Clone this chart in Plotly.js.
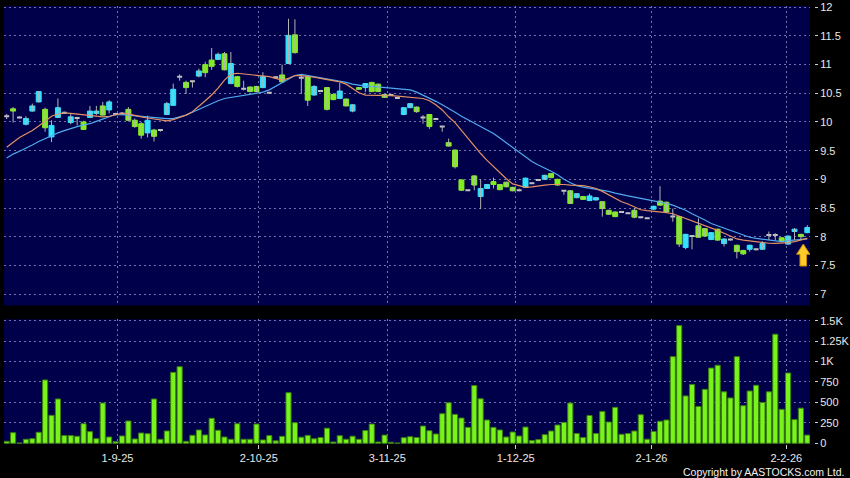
<!DOCTYPE html>
<html><head><meta charset="utf-8">
<script src="https://cdn.plot.ly/plotly-3.0.1.min.js"></script>
<style>html,body{margin:0;padding:0;background:#000;}#chart{width:850px;height:478px;}</style>
</head><body><div id="chart"></div>
<script>
// Daily OHLC (one entry per trading day, oldest first)
const openP = [10.10,10.23,10.08,9.96,10.19,10.35,10.22,9.74,10.08,10.16,
 9.99,10.07,10.00,10.08,10.15,10.28,10.21,10.14,10.15,10.22,
 10.03,9.97,9.81,9.86,9.86,10.13,10.29,10.79,10.69,10.71,
 10.80,11.00,11.08,11.09,11.19,10.67,10.79,10.58,10.61,10.62,
 10.60,10.51,10.78,10.82,11.02,11.52,10.77,10.79,10.47,10.54,
 10.60,10.48,10.41,10.40,10.19,10.60,10.60,10.69,10.66,10.48,
 10.47,10.42,10.13,10.25,10.26,10.08,10.13,10.05,9.92,9.64,
 9.51,8.99,8.81,9.06,8.70,8.84,8.96,8.91,8.95,8.86,
 8.81,8.86,8.93,8.99,9.00,9.10,9.00,8.80,8.80,8.68,
 8.70,8.63,8.64,8.61,8.46,8.43,8.43,8.41,8.46,8.34,
 8.32,8.48,8.62,8.60,8.35,8.35,7.81,8.01,8.19,8.14,
 7.95,8.13,7.88,7.95,7.85,7.76,7.78,7.78,7.78,8.03,
 8.03,7.98,7.87,8.09,8.04,8.07];
const highP = [10.14,10.26,10.10,10.10,10.32,10.54,10.25,10.03,10.41,10.18,
 10.15,10.09,10.02,10.28,10.28,10.35,10.38,10.16,10.17,10.26,
 10.06,10.00,10.11,9.88,9.87,10.35,10.67,10.83,10.72,10.72,
 10.93,11.05,11.29,11.21,11.22,11.22,10.80,10.72,10.62,10.63,
 10.87,10.52,10.79,11.00,11.80,11.79,10.81,10.80,10.64,10.56,
 10.61,10.50,10.68,10.41,10.31,10.61,10.68,10.70,10.67,10.49,
 10.48,10.43,10.26,10.33,10.27,10.12,10.14,10.06,9.93,9.71,
 9.52,9.00,8.82,9.07,9.00,8.92,9.03,8.92,8.96,8.87,
 8.84,9.03,8.94,9.00,9.08,9.11,9.01,8.81,8.81,8.76,
 8.71,8.75,8.69,8.62,8.47,8.44,8.45,8.42,8.50,8.35,
 8.33,8.54,8.88,8.61,8.49,8.36,8.05,8.02,8.32,8.15,
 8.08,8.14,7.97,7.97,7.86,7.77,7.86,7.79,7.92,8.09,
 8.06,7.99,8.02,8.15,8.05,8.20];
const lowP = [10.05,9.99,10.06,9.94,10.18,10.34,9.83,9.65,10.07,10.14,
 9.96,9.94,9.86,10.07,10.12,10.11,10.15,10.12,10.13,10.01,
 9.90,9.71,9.73,9.66,9.83,10.12,10.29,10.72,10.49,10.60,
 10.78,10.78,10.91,11.08,10.90,10.66,10.60,10.55,10.52,10.52,
 10.59,10.50,10.77,10.69,11.01,11.19,10.49,10.28,10.46,10.53,
 10.20,10.38,10.40,10.27,10.17,10.56,10.52,10.52,10.52,10.42,
 10.46,10.41,10.12,10.24,10.16,9.97,9.88,10.04,9.83,9.57,
 9.19,8.80,8.80,8.81,8.48,8.83,8.84,8.81,8.86,8.79,
 8.79,8.85,8.92,8.97,8.99,9.02,8.89,8.73,8.57,8.67,
 8.64,8.62,8.63,8.35,8.38,8.34,8.42,8.40,8.32,8.32,
 8.31,8.47,8.54,8.42,8.26,7.82,7.78,7.78,7.98,8.00,
 7.94,7.93,7.83,7.93,7.62,7.68,7.74,7.76,7.77,7.94,
 7.94,7.91,7.86,7.94,7.94,8.06];
const closeP = [10.10,10.19,10.08,10.06,10.28,10.53,9.90,9.94,10.25,10.16,
 10.09,10.07,9.87,10.19,10.19,10.12,10.35,10.14,10.15,10.03,
 9.92,9.77,10.03,9.75,9.86,10.32,10.57,10.79,10.60,10.71,
 10.89,10.86,10.97,11.18,10.91,11.02,10.62,10.58,10.53,10.53,
 10.79,10.51,10.78,10.70,11.51,11.21,10.77,10.38,10.62,10.54,
 10.22,10.39,10.54,10.28,10.30,10.57,10.67,10.53,10.53,10.43,
 10.47,10.42,10.25,10.32,10.18,10.08,9.92,10.05,9.92,9.58,
 9.22,8.81,8.81,8.90,8.84,8.91,8.91,8.82,8.87,8.80,
 8.81,9.02,8.93,8.99,9.07,9.03,8.90,8.80,8.58,8.75,
 8.65,8.71,8.68,8.49,8.39,8.35,8.43,8.41,8.34,8.34,
 8.32,8.53,8.55,8.43,8.35,7.87,8.04,8.01,7.99,8.01,
 8.07,7.94,7.96,7.95,7.74,7.70,7.85,7.78,7.88,8.03,
 8.03,7.92,8.01,8.13,8.00,8.16];
// Daily volume
const volume = [24,130,4,49,57,135,775,342,542,94,
 94,86,240,143,57,493,77,20,90,273,
 53,126,118,542,49,151,868,937,24,98,
 163,102,306,159,77,49,240,49,49,236,
 41,94,30,85,619,252,75,97,55,71,
 185,16,93,49,87,49,156,236,16,100,
 12,3,69,81,71,211,154,114,362,496,
 354,309,195,707,545,285,195,163,77,138,
 89,199,33,45,106,150,224,256,492,120,
 70,340,120,390,260,440,110,120,150,350,
 50,145,270,285,1060,1440,580,720,450,660,
 920,955,630,555,1060,460,640,710,500,630,
 1335,415,860,290,430,100];
// Moving averages as drawn (orange = short, blue = long)
const maShort = [9.56,9.65,9.73,9.79,9.85,9.93,10.02,10.10,10.14,10.16,
 10.15,10.14,10.13,10.12,10.11,10.09,10.10,10.13,10.15,10.14,
 10.11,10.09,10.07,10.05,10.03,10.02,10.04,10.08,10.12,10.18,
 10.27,10.37,10.47,10.59,10.73,10.83,10.85,10.84,10.83,10.82,
 10.80,10.79,10.76,10.73,10.76,10.81,10.81,10.80,10.78,10.76,
 10.74,10.72,10.70,10.66,10.58,10.51,10.47,10.47,10.47,10.46,
 10.46,10.45,10.44,10.43,10.43,10.41,10.37,10.30,10.21,10.09,
 9.99,9.85,9.72,9.59,9.45,9.33,9.22,9.12,9.01,8.92,
 8.89,8.86,8.87,8.89,8.90,8.91,8.915,8.91,8.90,8.90,
 8.89,8.87,8.84,8.79,8.73,8.66,8.61,8.57,8.52,8.47,
 8.455,8.445,8.434,8.42,8.40,8.36,8.32,8.27,8.23,8.20,
 8.16,8.11,8.06,8.01,7.96,7.94,7.925,7.91,7.89,7.885,
 7.883,7.885,7.895,7.915,7.945,7.97];
const maLong = [9.37,9.44,9.49,9.54,9.60,9.66,9.71,9.77,9.81,9.85,
 9.89,9.92,9.95,9.97,10.01,10.05,10.09,10.13,10.13,10.12,
 10.11,10.09,10.08,10.07,10.06,10.06,10.06,10.09,10.12,10.17,
 10.22,10.27,10.33,10.37,10.41,10.43,10.45,10.47,10.48,10.50,
 10.52,10.56,10.62,10.69,10.75,10.81,10.83,10.81,10.79,10.77,
 10.76,10.74,10.72,10.69,10.66,10.64,10.625,10.62,10.61,10.605,
 10.60,10.59,10.58,10.56,10.52,10.47,10.42,10.36,10.30,10.24,
 10.17,10.10,10.04,9.98,9.93,9.87,9.80,9.72,9.64,9.55,
 9.47,9.39,9.31,9.25,9.20,9.14,9.08,9.00,8.94,8.89,
 8.865,8.845,8.83,8.815,8.79,8.76,8.73,8.71,8.69,8.67,
 8.65,8.63,8.61,8.58,8.55,8.51,8.46,8.40,8.35,8.29,
 8.23,8.19,8.14,8.10,8.06,8.02,7.99,7.97,7.955,7.94,
 7.92,7.915,7.93,7.94,7.95,7.96];
// Date axis labels (trading-day position of each month start)
const tickLabels = ['1-9-25','2-10-25','3-11-25','1-12-25','2-1-26','2-2-26'];
const tickPos = [17.3,39.36,59.42,79.48,100.67,121.72];
const priceTicks = [7,7.5,8,8.5,9,9.5,10,10.5,11,11.5,12];
const priceTickLabels = ['7','7.5','8','8.5','9','9.5','10','10.5','11','11.5','12'];
const volTicks = [0,250,500,750,1000,1250,1500];
const volTickLabels = ['0','250','500','750','1K','1.25K','1.5K'];
// Marker arrow at latest session
const arrowAt = {day: 124.37, price: 7.872};

const idx = openP.map((_, i) => i);

const wx = [], wy = [];
idx.forEach(i => { wx.push(i, i, null); wy.push(lowP[i], highP[i], null); });

function bodies(sel, fill, lineColor, lw) {
  const ii = idx.filter(sel);
  const st = {line: {color: lineColor, width: lw}, fillcolor: fill};
  return {
    type: 'candlestick', x: ii,
    open: ii.map(i => openP[i]), close: ii.map(i => closeP[i]),
    high: ii.map(i => Math.max(openP[i], closeP[i])),
    low: ii.map(i => Math.min(openP[i], closeP[i])),
    increasing: st, decreasing: st, whiskerwidth: 0,
    hoverinfo: 'skip', xaxis: 'x', yaxis: 'y', showlegend: false
  };
}

const traces = [
  {type: 'scatter', mode: 'lines', x: idx, y: maLong, line: {color: '#4fa9ee', width: 1.2}, hoverinfo: 'skip', yaxis: 'y'},
  {type: 'scatter', mode: 'lines', x: idx, y: maShort, line: {color: '#e39062', width: 1.2}, hoverinfo: 'skip', yaxis: 'y'},
  {type: 'scatter', mode: 'lines', x: wx, y: wy, line: {color: '#b4b4b4', width: 1}, hoverinfo: 'skip', yaxis: 'y', connectgaps: false},
  bodies(i => closeP[i] > openP[i], '#2fe2ff', '#2fe2ff', 1),
  bodies(i => closeP[i] < openP[i], '#82ee1e', '#82ee1e', 1),
  bodies(i => closeP[i] === openP[i], 'rgba(0,0,0,0)', '#c4c4c4', 2),
  {type: 'bar', x: idx, y: volume, yaxis: 'y2', marker: {color: '#78f41a', line: {color: '#3a7f10', width: 1}}, hoverinfo: 'skip'}
];

const tickFont = {family: 'Arial, "Liberation Sans", sans-serif', size: 11, color: '#e8e8e8'};
const gridCol = 'rgba(150,150,205,0.75)';
const layout = {
  width: 850, height: 478,
  paper_bgcolor: '#000000', plot_bgcolor: '#00004a',
  margin: {l: 4, r: 36, t: 6, b: 34, pad: 0},
  showlegend: false, bargap: 0.2, boxgap: 0.12, boxgroupgap: 0.12,
  xaxis: {
    domain: [0, 806 / 810], range: [-0.42, 125.42], anchor: 'y2',
    tickmode: 'array', tickvals: tickPos, ticktext: tickLabels,
    ticks: 'outside', ticklen: 4, tickcolor: '#cfcfcf', tickfont: tickFont,
    showgrid: true, gridcolor: gridCol, griddash: '2px,3px', gridwidth: 1,
    zeroline: false, showline: false, rangeslider: {visible: false}, fixedrange: true
  },
  yaxis: {
    domain: [0.3162, 1], range: [6.7995, 12.0227], side: 'right', anchor: 'free', position: 1,
    tickmode: 'array', tickvals: priceTicks, ticktext: priceTickLabels,
    ticks: 'outside', ticklen: 3, tickcolor: '#cfcfcf', tickfont: tickFont,
    showgrid: true, gridcolor: gridCol, griddash: '2px,3px', gridwidth: 1,
    zeroline: false, showline: false, fixedrange: true
  },
  yaxis2: {
    domain: [0, 0.2847], range: [-8.6, 1517], side: 'right', anchor: 'free', position: 1,
    tickmode: 'array', tickvals: volTicks, ticktext: volTickLabels,
    ticks: 'outside', ticklen: 3, tickcolor: '#cfcfcf', tickfont: tickFont,
    showgrid: true, gridcolor: gridCol, griddash: '2px,3px', gridwidth: 1,
    zeroline: false, showline: false, fixedrange: true
  },
  shapes: [{
    type: 'path', xref: 'x', yref: 'y', xsizemode: 'pixel', ysizemode: 'pixel',
    xanchor: arrowAt.day, yanchor: arrowAt.price,
    path: 'M0,0 L6.7,-10.3 L3.3,-10.3 L3.3,-22 L-3.3,-22 L-3.3,-10.3 L-6.7,-10.3 Z',
    fillcolor: '#ffcc2a', line: {color: '#c98600', width: 1}, layer: 'above'
  }],
  annotations: [{
    text: 'Copyright by AASTOCKS.com Ltd.', xref: 'paper', yref: 'paper',
    x: 842 / 810, y: -28 / 438, xanchor: 'right', yanchor: 'middle', showarrow: false,
    font: {family: 'Arial, "Liberation Sans", sans-serif', size: 10.5, color: '#f0f0f0'}
  }]
};

Plotly.newPlot('chart', traces, layout, {staticPlot: true, displayModeBar: false});
</script>
</body></html>
